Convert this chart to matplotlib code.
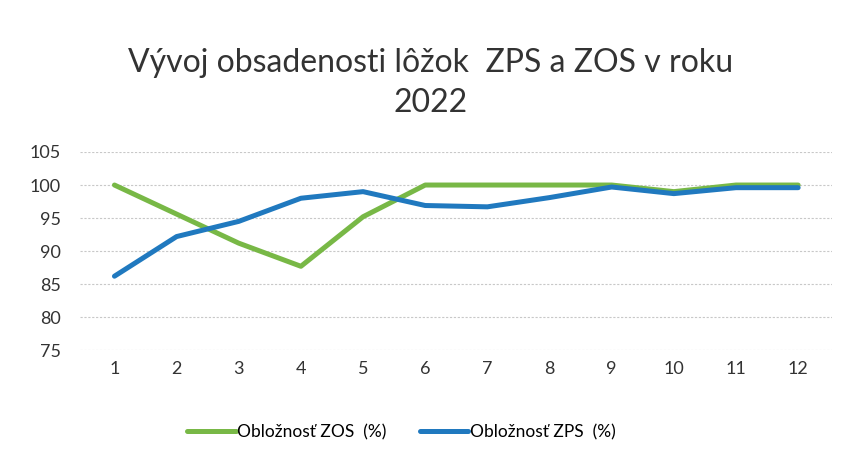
import matplotlib
matplotlib.use("Agg")
import matplotlib.pyplot as plt

plt.rcParams['font.family'] = ['Lato', 'DejaVu Sans']

months = list(range(1, 13))
zos = [100, 95.6, 91.2, 87.7, 95.2, 100, 100, 100, 100, 99.0, 100, 100]
zps = [86.2, 92.2, 94.5, 98.0, 99.0, 96.9, 96.7, 98.1, 99.7, 98.7, 99.6, 99.6]
yticks = [75, 80, 85, 90, 95, 100, 105]
title = "Vývoj obsadenosti lôžok  ZPS a ZOS v roku\n2022"
label_zos = "Obložnosť ZOS  (%)"
label_zps = "Obložnosť ZPS  (%)"

fig = plt.figure(figsize=(8.45, 4.62), dpi=100)
ax = fig.add_axes([0.095, 0.242, 0.89, 0.429])

ax.plot(months, zos, color='#78B846', lw=3.6, label=label_zos, solid_capstyle='round')
ax.plot(months, zps, color='#2079BF', lw=3.6, label=label_zps, solid_capstyle='round')

ax.set_xlim(0.45, 12.55)
ax.set_ylim(75, 105)
ax.set_yticks(yticks)
ax.set_xticks(months)
ax.tick_params(length=0, labelsize=13, colors='#333333', pad=8)
ax.tick_params(axis='y', pad=14)
for s in ax.spines.values():
    s.set_visible(False)
ax.grid(axis='y', color='#c8c8c8', lw=0.8, ls=(0, (2, 1.5)))
ax.set_axisbelow(True)

fig.text(0.51, 0.82, title, ha='center', va='center', fontsize=23,
         color='#333333', linespacing=1.4)

fig.legend(loc='center', bbox_to_anchor=(0.475, 0.065), ncol=2, frameon=False,
           fontsize=12.5, handlelength=2.8, handletextpad=0.1, columnspacing=1.9)

fig.savefig("out.png", dpi=100, facecolor='white')
